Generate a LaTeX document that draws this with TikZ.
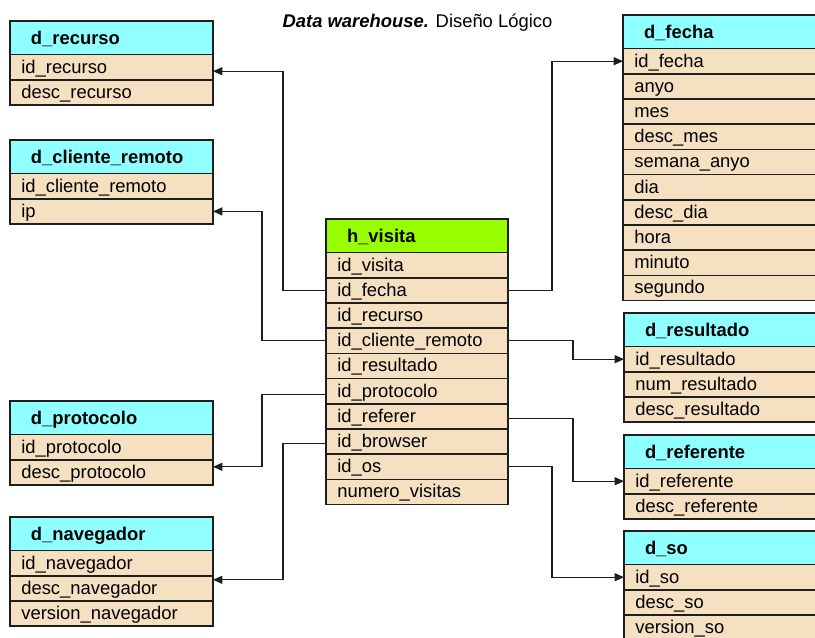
\documentclass[tikz,border=0pt]{standalone}
\usepackage{fontspec}
\setmainfont{Liberation Sans}
\usetikzlibrary{arrows.meta,calc}

\definecolor{dimhead}{RGB}{143,255,255}
\definecolor{facthead}{RGB}{153,255,0}
\definecolor{attrfill}{RGB}{245,224,194}
\definecolor{edgeline}{RGB}{30,30,30}

\tikzset{
  tblcell/.style={draw=edgeline, line width=1.1pt, outer sep=0pt, inner ysep=0pt,
    anchor=north west, align=left},
  hdrcell/.style={tblcell, inner xsep=15.75pt, minimum height=25.2pt,
    text height=12.2pt, text depth=2.8pt,
    font=\fontsize{13.8pt}{16pt}\selectfont\bfseries},
  attrcell/.style={tblcell, fill=attrfill, inner xsep=8.5pt, minimum height=18.9pt,
    text height=11.4pt, text depth=2.6pt,
    font=\fontsize{13.8pt}{16pt}\selectfont},
  link/.style={draw=edgeline, line width=0.9pt, -{Triangle[length=7pt,width=6pt]}},
}

% table: name, left x, top y, width (px), header colour, title, fields
\newcommand\erdtable[7]{%
  \pgfmathsetlengthmacro\tblw{#4*0.75pt}%
  \pgfmathsetlengthmacro\hdrtw{#4*0.75pt-31.5pt}%
  \pgfmathsetlengthmacro\attrtw{#4*0.75pt-17pt}%
  \node[hdrcell, fill=#5, minimum width=\tblw, text width=\hdrtw] (#1-0) at (#2,#3) {#6};
  \foreach \fld [count=\i] in {#7}{%
    \pgfmathtruncatemacro\prev{\i-1}%
    \node[attrcell, minimum width=\tblw, text width=\attrtw] (#1-\i) at (#1-\prev.south west) {\fld};
  }%
}

\begin{document}
\begin{tikzpicture}[x=0.75pt, y=-0.75pt]
  \useasboundingbox (0,0) rectangle (815,637);
  \clip (0,0) rectangle (815,637);

  \node[anchor=base, font=\fontsize{13.8pt}{16pt}\selectfont] (title) at (417.5,27)
    {\textbf{\textit{Data warehouse.}} Diseño Lógico};

  % dimension tables, left column
  \erdtable{rec}{10}{21}{203}{dimhead}{d\_recurso}{id\_recurso,desc\_recurso}
  \erdtable{cli}{10}{140}{203}{dimhead}{d\_cliente\_remoto}{id\_cliente\_remoto,ip}
  \erdtable{prot}{10}{401}{203}{dimhead}{d\_protocolo}{id\_protocolo,desc\_protocolo}
  \erdtable{nav}{10}{517}{203}{dimhead}{d\_navegador}{id\_navegador,desc\_navegador,version\_navegador}

  % fact table
  \erdtable{hv}{326}{219}{182}{facthead}{h\_visita}{id\_visita,id\_fecha,id\_recurso,id\_cliente\_remoto,id\_resultado,id\_protocolo,id\_referer,id\_browser,id\_os,numero\_visitas}

  % dimension tables, right column
  \erdtable{fec}{623}{15}{200}{dimhead}{d\_fecha}{id\_fecha,anyo,mes,desc\_mes,semana\_anyo,dia,desc\_dia,hora,minuto,segundo}
  \erdtable{res}{624}{313}{200}{dimhead}{d\_resultado}{id\_resultado,num\_resultado,desc\_resultado}
  \erdtable{ref}{624}{435}{200}{dimhead}{d\_referente}{id\_referente,desc\_referente}
  \erdtable{so}{624}{531}{200}{dimhead}{d\_so}{id\_so,desc\_so,version\_so}

  % links to the left
  \draw[link] (hv-2.west) -- ++(-43,0) |- ([yshift=-3pt]rec-1.east);
  \draw[link] (hv-4.west) -- ++(-64,0) |- (cli-2.east);
  \draw[link] ([yshift=-2.5pt]hv-6.west) -- ++(-64,0) |- ([yshift=-5.25pt]prot-1.south east);
  \draw[link] ([yshift=-1.5pt]hv-8.west) -- ++(-43,0) |- ([yshift=-3pt]nav-1.south east);

  % links to the right
  \draw[link] (hv-2.east) -- ++(44,0) |- (fec-1.west);
  \draw[link] (hv-4.east) -- ++(65,0) |- (res-1.west);
  \draw[link] ([yshift=-1.5pt]hv-7.east) -- ++(65,0) |- (ref-1.west);
  \draw[link] (hv-9.east) -- ++(44,0) |- (so-1.west);
\end{tikzpicture}
\end{document}
